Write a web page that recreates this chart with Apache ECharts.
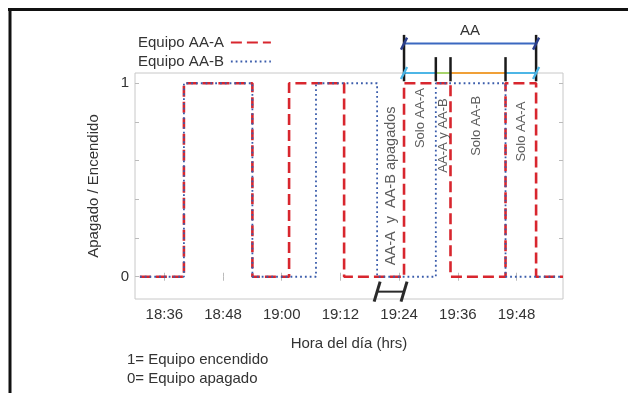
<!DOCTYPE html>
<html>
<head>
<meta charset="utf-8">
<script src="https://cdn.jsdelivr.net/npm/echarts@6/dist/echarts.min.js"></script>
<style>
  html, body { margin: 0; padding: 0; background: #fff; }
  #chart { width: 628px; height: 393px; }
</style>
</head>
<body>
<div id="chart"></div>
<script>
// estado de cada equipo (1 = encendido, 0 = apagado) en cada cambio
const tiempoA = ["18:31", "18:40", "18:54", "19:01:30", "19:12:45", "19:25", "19:34:30", "19:45:45", "19:52", "19:57:30"];
const estadoA = [0, 1, 0, 1, 0, 1, 0, 1, 0, 0];
const tiempoB = ["18:31", "18:40", "18:54", "19:07", "19:19:30", "19:31:30", "19:45:45", "19:57:30"];
const estadoB = [0, 1, 0, 1, 0, 1, 0, 0];

const ticksX = ["18:36", "18:48", "19:00", "19:12", "19:24", "19:36", "19:48"];
const ticksY = [0, 1];
const ticksYMenores = [0, 0.2, 0.4, 0.6, 0.8, 1];

// textos de cada zona
const zonaTexto = ["AA-A  y  AA-B apagados", "Solo AA-A", "AA-A y AA-B", "Solo AA-B", "Solo AA-A"];
const zonaHora = ["19:22:15", "19:28:15", "19:33", "19:39:45", "19:49"];
const zonaNivel = [0.47, 0.82, 0.73, 0.78, 0.75];

// tramos de la cota superior "AA" y cota inferior
const tramoInicio = ["19:25", "19:31:30", "19:34:30", "19:45:45"];
const tramoFin = ["19:31:30", "19:34:30", "19:45:45", "19:52"];
const cotaApagados = ["19:19:30", "19:25"];

const FONT = "'Liberation Sans', Arial, sans-serif";
const TXT = "#333";

function toMin(s) {
  const [h, m, sec = 0] = s.split(":").map(Number);
  return h * 60 + m + sec / 60;
}
function fmt(v) {
  const h = Math.floor(v / 60);
  const m = Math.round(v - h * 60);
  return h + ":" + String(m).padStart(2, "0");
}

const serieA = tiempoA.map((t, i) => [toMin(t), estadoA[i]]);
const serieB = tiempoB.map((t, i) => [toMin(t), estadoB[i]]);
const xMin = toMin("18:30");
const xMax = toMin("19:57:30");
const tickVals = ticksX.map(toMin);

const coloresTramo = ["#4db6e6", "#a8d46c", "#f0a038", "#4db6e6"];

const chart = echarts.init(document.getElementById("chart"));
chart.setOption({
  animation: false,
  backgroundColor: "#fff",
  textStyle: { fontFamily: FONT },
  grid: {
    left: 135,
    right: 65,
    top: 73,
    bottom: 94,
    show: true,
    borderColor: "#c8c8c8",
    borderWidth: 1,
  },
  legend: {
    data: ["Equipo AA-A", "Equipo AA-B"],
    orient: "vertical",
    left: 138,
    top: 35,
    align: "right",
    itemWidth: 40,
    itemHeight: 10,
    itemGap: 4,
    padding: 0,
    itemStyle: { opacity: 0 },
    textStyle: { fontSize: 15, color: TXT, fontFamily: FONT, padding: [0, 2, 0, 0] },
  },
  xAxis: [
    {
      type: "value",
      min: xMin,
      max: xMax,
      name: "Hora del día (hrs)",
      nameLocation: "middle",
      nameGap: 37,
      nameTextStyle: { fontSize: 15, color: TXT },
      axisLine: { show: false },
      splitLine: { show: false },
      axisTick: { customValues: tickVals, inside: true, length: 4, lineStyle: { color: "#bbb" } },
      axisLabel: { customValues: tickVals, formatter: fmt, fontSize: 15, color: TXT, margin: 8 },
    },
    {
      type: "value",
      position: "top",
      min: xMin,
      max: xMax,
      axisLine: { show: false },
      splitLine: { show: false },
      axisLabel: { show: false },
      axisTick: { customValues: tickVals, inside: true, length: 4, lineStyle: { color: "#bbb" } },
    },
  ],
  yAxis: [
    {
      type: "value",
      min: -0.115,
      max: 1.053,
      name: "Apagado / Encendido",
      nameLocation: "middle",
      nameRotate: 90,
      nameGap: 34,
      nameTextStyle: { fontSize: 15, color: TXT },
      axisLine: { show: false },
      splitLine: { show: false },
      axisTick: { show: true, customValues: ticksYMenores, inside: true, length: 4, lineStyle: { color: "#bbb" } },
      axisLabel: { customValues: ticksY, fontSize: 15, color: TXT, margin: 6 },
    },
    {
      type: "value",
      position: "right",
      min: -0.115,
      max: 1.053,
      axisLine: { show: false },
      splitLine: { show: false },
      axisLabel: { show: false },
      axisTick: { show: true, customValues: ticksYMenores, inside: true, length: 4, lineStyle: { color: "#bbb" } },
    },
  ],
  series: [
    {
      name: "Equipo AA-A",
      type: "line",
      step: "end",
      symbol: "none",
      data: serieA,
      lineStyle: { color: "#d8262e", width: 2.6, type: [11, 5] },
      itemStyle: { color: "#d8262e" },
      z: 3,
    },
    {
      name: "Equipo AA-B",
      type: "line",
      step: "end",
      symbol: "none",
      data: serieB,
      lineStyle: { color: "#3a5cab", width: 1.8, type: [1.8, 3] },
      itemStyle: { color: "#3a5cab" },
      z: 4,
    },
    {
      type: "scatter",
      symbolSize: 0,
      silent: true,
      data: zonaTexto.map((t, i) => ({
        name: t,
        value: [toMin(zonaHora[i]), zonaNivel[i]],
        label: i === 0 ? { fontSize: 14.5 } : undefined,
      })),
      label: {
        show: true,
        position: "inside",
        rotate: 90,
        align: "center",
        verticalAlign: "middle",
        formatter: (p) => p.name,
        fontSize: 13,
        color: TXT,
        fontFamily: FONT,
      },
      z: 5,
    },
    {
      type: "custom",
      clip: false,
      silent: true,
      data: [[0]],
      z: 6,
      renderItem: function (params, api) {
        const p = (t, y) => api.coord([toMin(t), y]);
        const seg = (a, b, color, w) => ({
          type: "line",
          shape: { x1: a[0], y1: a[1], x2: b[0], y2: b[1] },
          style: { stroke: color, lineWidth: w },
        });
        const marca = (c, color) => seg([c[0] - 3, c[1] + 6], [c[0] + 3, c[1] - 6], color, 2.5);
        const kids = [];
        const ini = tramoInicio[0];
        const fin = tramoFin[tramoFin.length - 1];
        // tramos de colores sobre el borde superior
        tramoInicio.forEach((t, i) => kids.push(seg(p(t, 1.053), p(tramoFin[i], 1.053), coloresTramo[i], 2)));
        // línea AA
        kids.push(seg(p(ini, 1.205), p(fin, 1.205), "#3b68c0", 2));
        // verticales
        [ini, fin].forEach((t) => kids.push(seg(p(t, 1.01), p(t, 1.25), "#1a1a1a", 2.5)));
        tramoFin.slice(0, -1).forEach((t) => kids.push(seg(p(t, 1.01), p(t, 1.135), "#1a1a1a", 2.5)));
        // puntas
        [ini, fin].forEach((t) => {
          kids.push(marca(p(t, 1.205), "#2c3f8a"));
          kids.push(marca(p(t, 1.053), "#4db6e6"));
        });
        const c = p(ini, 1.205);
        const d = p(fin, 1.205);
        kids.push({
          type: "text",
          style: {
            text: "AA",
            x: (c[0] + d[0]) / 2,
            y: c[1] - 13,
            align: "center",
            verticalAlign: "middle",
            font: "15px " + FONT,
            fill: TXT,
          },
        });
        // cota inferior (ambos apagados)
        const a0 = p(cotaApagados[0], -0.077);
        const a1 = p(cotaApagados[1], -0.077);
        kids.push(seg(a0, a1, "#2a2a2a", 2));
        kids.push(seg([a0[0] - 3, a0[1] + 10], [a0[0] + 3, a0[1] - 10], "#2a2a2a", 3));
        kids.push(seg([a1[0] - 3, a1[1] + 10], [a1[0] + 3, a1[1] - 10], "#2a2a2a", 3));
        return { type: "group", children: kids };
      },
    },
  ],
  graphic: [
    { type: "line", shape: { x1: 8, y1: 9.5, x2: 628, y2: 9.5 }, style: { stroke: "#111", lineWidth: 3 } },
    { type: "line", shape: { x1: 10, y1: 8, x2: 10, y2: 393 }, style: { stroke: "#111", lineWidth: 3 } },
    {
      type: "text",
      left: 127,
      top: 352,
      style: { text: "1= Equipo encendido", font: "15px " + FONT, fill: TXT },
    },
    {
      type: "text",
      left: 127,
      top: 371,
      style: { text: "0= Equipo apagado", font: "15px " + FONT, fill: TXT },
    },
  ],
});
</script>
</body>
</html>
